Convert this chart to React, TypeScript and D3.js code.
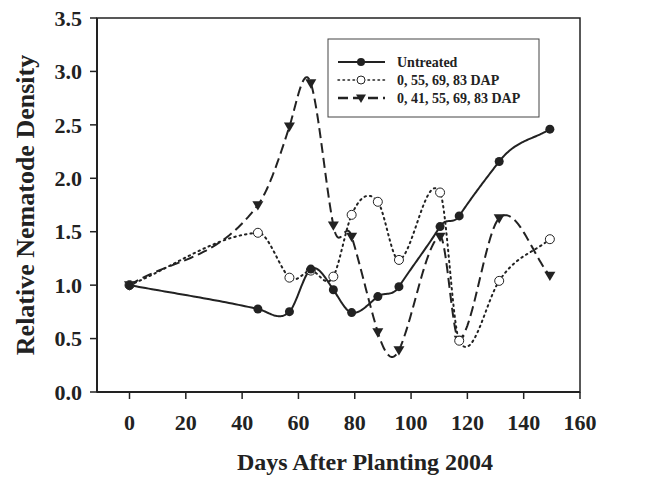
import React from "react";
import * as d3 from "d3";

const days = [0, 45.6, 56.8, 64.4, 72.4, 78.9, 88.2, 95.7, 110.3, 117.1, 131.3, 149.3];
const untreated = [1.0, 0.777, 0.752, 1.15, 0.957, 0.743, 0.893, 0.986, 1.548, 1.648, 2.157, 2.46];
const dap4 = [1.0, 1.49, 1.07, 1.136, 1.08, 1.658, 1.78, 1.236, 1.867, 0.48, 1.04, 1.43];
const dap5 = [1.0, 1.75, 2.485, 2.89, 1.56, 1.455, 0.56, 0.393, 1.455, 0.49, 1.627, 1.09];
const seriesNames = ["Untreated", "0, 55, 69, 83 DAP", "0, 41, 55, 69, 83 DAP"];
const xTicks = [0, 20, 40, 60, 80, 100, 120, 140, 160];
const yTicks = [0, 0.5, 1.0, 1.5, 2.0, 2.5, 3.0, 3.5];

// cardinal (Catmull-Rom style) cubic Hermite spline y(x) through the data points
function splinePoints(xs: number[], ys: number[], s = 1.35): [number, number][] {
  const n = xs.length;
  const m: number[] = [];
  for (let i = 0; i < n; i++) {
    if (i === 0) m.push((ys[1] - ys[0]) / (xs[1] - xs[0]));
    else if (i === n - 1) m.push((ys[n - 1] - ys[n - 2]) / (xs[n - 1] - xs[n - 2]));
    else m.push((s * (ys[i + 1] - ys[i - 1])) / (xs[i + 1] - xs[i - 1]));
  }
  const out: [number, number][] = [];
  for (let i = 0; i < n - 1; i++) {
    const h = xs[i + 1] - xs[i];
    const steps = 40;
    for (let k = i === 0 ? 0 : 1; k <= steps; k++) {
      const t = k / steps;
      const t2 = t * t, t3 = t2 * t;
      const h00 = 2 * t3 - 3 * t2 + 1;
      const h10 = t3 - 2 * t2 + t;
      const h01 = -2 * t3 + 3 * t2;
      const h11 = t3 - t2;
      out.push([xs[i] + h * t, h00 * ys[i] + h10 * h * m[i] + h01 * ys[i + 1] + h11 * h * m[i + 1]]);
    }
  }
  return out;
}

export default function App() {
  const W = 658, H = 480;
  const x = d3.scaleLinear().domain([0, 160]).range([129.5, 580]);
  const y = d3.scaleLinear().domain([0, 3.5]).range([392, 18]);
  const x0 = 97;
  const font = "'Liberation Serif', 'Times New Roman', serif";
  const line = d3.line<[number, number]>().x(d => x(d[0])).y(d => y(d[1]));
  const mk = (vals: number[]) => line(splinePoints(days, vals)) || "";
  const tri = (cx: number, cy: number, s = 5.5) =>
    `M${cx - s},${cy - s * 0.7}L${cx + s},${cy - s * 0.7}L${cx},${cy + s * 1.0}Z`;

  return (
    <svg width={W} height={H} style={{ position: "absolute", left: 0, top: 0, background: "#fff" }} fontFamily={font}>
      <rect x={0} y={0} width={W} height={H} fill="#fff" />
      <rect x={x0} y={y(3.5)} width={x(160) - x0} height={y(0) - y(3.5)} fill="none" stroke="#222" strokeWidth={1.5} />
      <line x1={x0} x2={x0} y1={y(3.5)} y2={y(0)} stroke="#222" strokeWidth={2} />
      <line x1={x0} x2={x(160)} y1={y(0)} y2={y(0)} stroke="#222" strokeWidth={2} />
      {yTicks.map(t => (
        <g key={"y" + t}>
          <line x1={x0 - 7} x2={x0} y1={y(t)} y2={y(t)} stroke="#222" strokeWidth={1.5} />
          <text x={x0 - 15} y={y(t)} dy="0.35em" textAnchor="end" fontSize={22} fontWeight="bold" fill="#222">
            {t.toFixed(1)}
          </text>
        </g>
      ))}
      {xTicks.map(t => (
        <g key={"x" + t}>
          <line x1={x(t)} x2={x(t)} y1={y(0)} y2={y(0) + 7} stroke="#222" strokeWidth={1.5} />
          <text x={x(t)} y={y(0) + 38} textAnchor="middle" fontSize={22} fontWeight="bold" fill="#222">
            {t}
          </text>
        </g>
      ))}
      <text x={365} y={470} textAnchor="middle" fontSize={24} fontWeight="bold" fill="#222">
        Days After Planting 2004
      </text>
      <text transform={`translate(34, ${(y(0) + y(3.5)) / 2}) rotate(-90)`} textAnchor="middle" fontSize={26} fontWeight="bold" fill="#222">
        Relative Nematode Density
      </text>

      <path d={mk(dap4)} fill="none" stroke="#222" strokeWidth={2} strokeDasharray="1.5 4" strokeLinecap="round" />
      <path d={mk(dap5)} fill="none" stroke="#222" strokeWidth={2} strokeDasharray="10 5" />
      <path d={mk(untreated)} fill="none" stroke="#222" strokeWidth={2} />

      {days.map((d, i) => (
        <path key={"t" + i} d={tri(x(d), y(dap5[i]))} fill="#222" />
      ))}
      {days.map((d, i) => (
        <circle key={"o" + i} cx={x(d)} cy={y(dap4[i])} r={4.5} fill="#fff" stroke="#222" strokeWidth={1} />
      ))}
      {days.map((d, i) => (
        <circle key={"f" + i} cx={x(d)} cy={y(untreated[i])} r={4.5} fill="#222" />
      ))}

      <g>
        <rect x={328} y={39} width={211} height={78} fill="#fff" stroke="#444" strokeWidth={1} />
        {seriesNames.map((name, i) => {
          const ly = 62 + i * 18;
          return (
            <g key={name}>
              {i === 0 && <line x1={338} x2={385} y1={ly} y2={ly} stroke="#222" strokeWidth={2} />}
              {i === 0 && <circle cx={361} cy={ly} r={4} fill="#222" />}
              {i === 1 && <line x1={338} x2={385} y1={ly} y2={ly} stroke="#222" strokeWidth={1.5} strokeDasharray="1.5 3.5" strokeLinecap="round" />}
              {i === 1 && <circle cx={361} cy={ly} r={4} fill="#fff" stroke="#222" strokeWidth={1} />}
              {i === 2 && <line x1={338} x2={385} y1={ly} y2={ly} stroke="#222" strokeWidth={2.5} strokeDasharray="10 5" />}
              {i === 2 && <path d={tri(361, ly, 5)} fill="#222" />}
              <text x={397} y={ly} dy="0.35em" fontSize={14} fontWeight="bold" fill="#222">{name}</text>
            </g>
          );
        })}
      </g>
    </svg>
  );
}
